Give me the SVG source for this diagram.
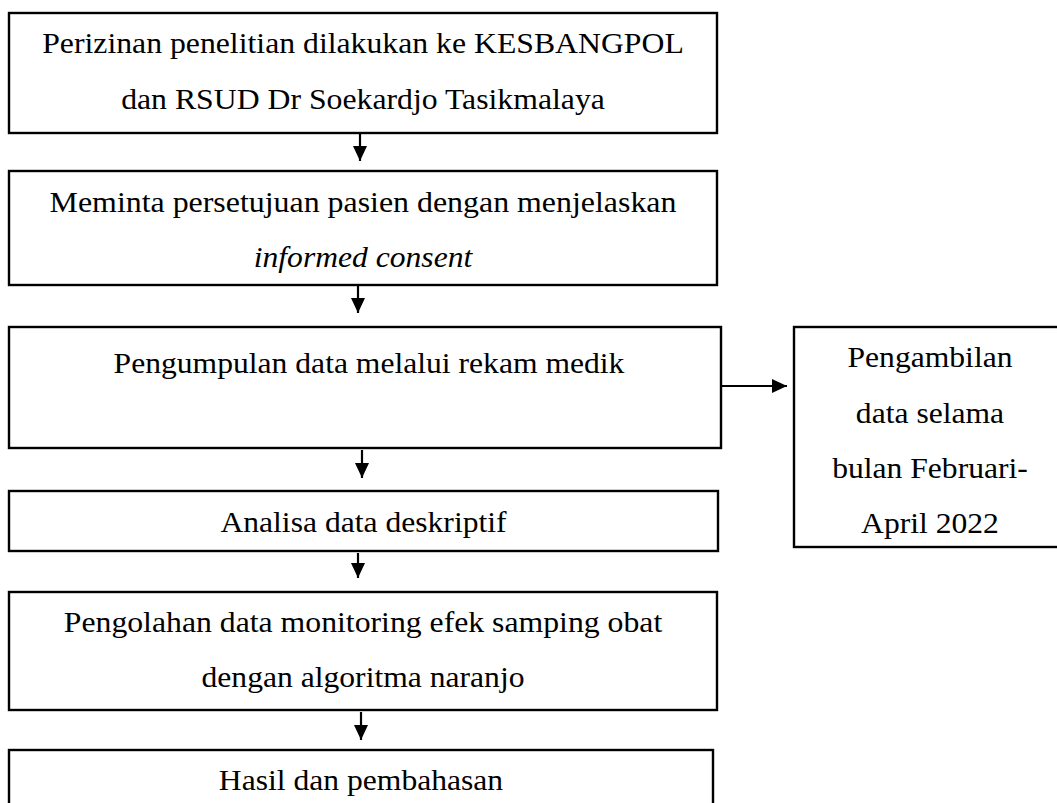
<svg xmlns="http://www.w3.org/2000/svg" width="1057" height="803" viewBox="0 0 1057 803">
<style>
.box{fill:#fff;stroke:#000;stroke-width:2.4}
.t{font-family:"Liberation Serif","Times New Roman",serif;font-size:29px;fill:#000;text-anchor:middle}
.i{font-style:italic}
.c{stroke:#000;stroke-width:2.2;fill:none}
</style>
<defs>
<marker id="ah" markerUnits="userSpaceOnUse" markerWidth="16" markerHeight="16" refX="15" refY="7" orient="auto">
<path d="M0,0 L15,7 L0,14 Z" fill="#000"/>
</marker>
</defs>
<rect width="1057" height="803" fill="#fff"/>
<g id="n1">
<rect class="box" x="9" y="13" width="708" height="120"/>
<text class="t" transform="translate(363,53) scale(1.095,1)">Perizinan penelitian dilakukan ke KESBANGPOL</text>
<text class="t" transform="translate(363,109) scale(1.095,1)">dan RSUD Dr Soekardjo Tasikmalaya</text>
</g>
<g id="n2">
<rect class="box" x="9" y="171" width="708" height="114"/>
<text class="t" transform="translate(363,212) scale(1.1,1)">Meminta persetujuan pasien dengan menjelaskan</text>
<text class="t i" transform="translate(363,267) scale(1.09,1)">informed consent</text>
</g>
<g id="n3">
<rect class="box" x="9" y="327" width="712" height="121"/>
<text class="t" transform="translate(369,373) scale(1.09,1)">Pengumpulan data melalui rekam medik</text>
</g>
<g id="n4">
<rect class="box" x="9" y="491" width="709" height="60"/>
<text class="t" transform="translate(363.5,532) scale(1.09,1)">Analisa data deskriptif</text>
</g>
<g id="n5">
<rect class="box" x="9" y="592" width="708" height="118"/>
<text class="t" transform="translate(363,632) scale(1.095,1)">Pengolahan data monitoring efek samping obat</text>
<text class="t" transform="translate(363,687) scale(1.09,1)">dengan algoritma naranjo</text>
</g>
<g id="n6">
<rect class="box" x="9" y="750" width="704" height="80"/>
<text class="t" transform="translate(361,790) scale(1.09,1)">Hasil dan pembahasan</text>
</g>
<g id="n7">
<rect class="box" x="794" y="327" width="272" height="220"/>
<text class="t" transform="translate(930,367) scale(1.09,1)">Pengambilan</text>
<text class="t" transform="translate(930,423) scale(1.09,1)">data selama</text>
<text class="t" transform="translate(930,478) scale(1.09,1)">bulan Februari-</text>
<text class="t" transform="translate(930,533) scale(1.09,1)">April 2022</text>
</g>
<g id="connectors">
<line class="c" x1="360" y1="134" x2="360" y2="161" marker-end="url(#ah)"/>
<line class="c" x1="358" y1="286" x2="358" y2="313" marker-end="url(#ah)"/>
<line class="c" x1="362" y1="450" x2="362" y2="478" marker-end="url(#ah)"/>
<line class="c" x1="358" y1="553" x2="358" y2="578" marker-end="url(#ah)"/>
<line class="c" x1="361" y1="712" x2="361" y2="740" marker-end="url(#ah)"/>
<line class="c" x1="722" y1="386" x2="787" y2="386" marker-end="url(#ah)"/>
</g>
</svg>
